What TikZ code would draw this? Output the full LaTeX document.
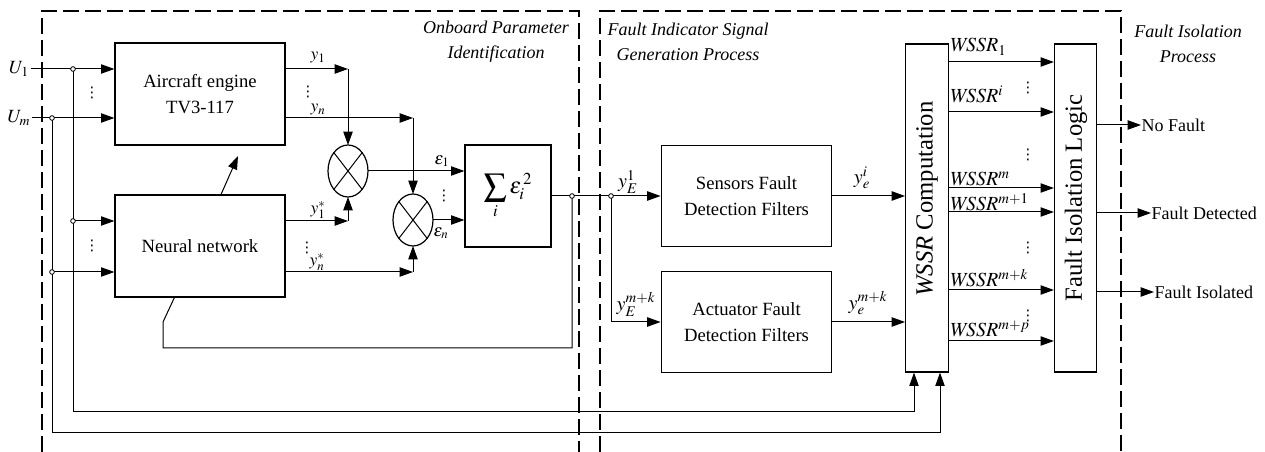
\documentclass[tikz,border=0pt]{standalone}
\usepackage{mathptmx}
\usepackage[no-math]{fontspec}
\setmainfont{Liberation Serif}
\newfontfamily\dotsfont{DejaVu Sans}
\usetikzlibrary{arrows.meta,shapes.geometric}

\begin{document}
\begin{tikzpicture}[x=0.75pt,y=-0.75pt,>={Triangle[length=10pt,width=7pt]},line width=0.75pt,
  blk/.style={draw,line width=0.9pt,align=center,inner sep=2pt,font=\fontsize{14}{20}\selectfont},
  mul/.style={draw,ellipse,line width=0.9pt,minimum width=30pt,minimum height=39pt,inner sep=0pt,outer sep=0pt},
  lbl/.style={inner sep=0pt,font=\fontsize{13}{15}\selectfont},
  big/.style={inner sep=0pt,font=\fontsize{15}{17}\selectfont},
  vd/.style={inner sep=0pt,font=\dotsfont\fontsize{11}{12}\selectfont},
  ttl/.style={align=center,font=\fontsize{13.5}{19}\selectfont\itshape},
  zone/.style={dash pattern=on 12pt off 4.5pt,line width=0.8pt},
  jdot/.style={circle,draw,fill=white,inner sep=0pt,minimum size=3.5pt,line width=0.6pt}]
\useasboundingbox (0,0) rectangle (1265,452);

% dashed zones
\draw[zone] (42,452) -- (42,11) -- (579,11) -- (579,452);
\draw[zone] (600,452) -- (600,11) -- (1121,11) -- (1121,452);
\node[ttl] (t1) at (496,42) {Onboard Parameter\\Identification};
\node[ttl] (t2) at (688,42) {Fault Indicator Signal\\Generation Process};
\node[ttl] (t3) at (1188,44) {Fault Isolation\\Process};

% blocks
\node[blk,minimum width=127.5pt,minimum height=76.5pt] (eng) at (200,94) {Aircraft engine\\TV3-117};
\node[blk,minimum width=127.5pt,minimum height=76.5pt] (nn) at (200,246) {Neural network};
\node[blk,minimum width=64.5pt,minimum height=76.5pt,font=\fontsize{17}{20}\selectfont] (sum) at (508,196) {$\displaystyle\sum_i\varepsilon_i^{\,2}$};
\node[blk,minimum width=128pt,minimum height=76pt] (sfd) at (746.5,196) {Sensors Fault\\Detection Filters};
\node[blk,minimum width=128pt,minimum height=76pt] (afd) at (746.5,322) {Actuator Fault\\Detection Filters};
\node[blk,minimum width=32pt,minimum height=246pt] (wssr) at (927,208) {};
\node[blk,minimum width=31.5pt,minimum height=246pt] (fil) at (1075.5,208) {};
\node[rotate=90,font=\fontsize{18.5}{20}\selectfont] (wssrtxt) at (927,199) {\textit{WSSR} Computation};
\node[rotate=90,font=\fontsize{18.5}{20}\selectfont] (filtxt) at (1076,198) {Fault Isolation Logic};
\node[mul] (m1) at (348,171) {};
\node[mul] (m2) at (413,220) {};
\draw (m1.north west) -- (m1.south east) (m1.north east) -- (m1.south west);
\draw (m2.north west) -- (m2.south east) (m2.north east) -- (m2.south west);

% inputs
\node[inner sep=1pt,font=\fontsize{14}{16}\selectfont] (u1) at (19,69) {$U_1$};
\node[inner sep=1pt,font=\fontsize{14}{16}\selectfont] (um) at (19,118) {$U_m$};
\coordinate (j1) at (73,69);
\coordinate (j2) at (52,118);
\coordinate (j3) at (73,221);
\coordinate (j4) at (52,272);
\coordinate (j5) at (572,196);
\coordinate (j6) at (611,196);
\draw[->] (u1) -- (u1 -| eng.west);
\draw[->] (um) -- (um -| eng.west);
\draw[->] (j3) -- (j3 -| nn.west);
\draw[->] (j4) -- (j4 -| nn.west);
\draw[->] (j1) -- (73,412) -| ([xshift=-9.75pt]wssr.south);
\draw[->] (j2) -- (52,433) -| ([xshift=9.75pt]wssr.south);

% identification loop
\draw[->] (eng.east |- j1) -- (m1 |- j1);
\draw[->] (m1 |- j1) -- (m1.north);
\draw[->] (eng.east |- j2) -- (m2 |- j2);
\draw[->] (m2 |- j2) -- (m2.north);
\draw[->] (nn.east |- j3) -- (m1 |- j3);
\draw[->] (m1 |- j3) -- (m1.south);
\draw[->] (nn.east |- j4) -- (m2 |- j4);
\draw[->] (m2 |- j4) -- (m2.south);
\draw[->] (m1.east) -- (m1.east -| sum.west);
\draw[->] (m2.east) -- (m2.east -| sum.west);
\draw[->] (sum.east) -- (sfd.west);
\draw (j5) |- (163,348) -- (163,322) -- ([xshift=45pt]nn.south west);
\coordinate (tip) at (238,156);
\draw[->] ([xshift=80pt]nn.north west) -- (tip);

% residual generation
\draw[->] (j6) |- (afd.west);
\draw[->] (sfd.east) -- (sfd.east -| wssr.west);
\draw[->] (afd.east) -- (afd.east -| wssr.west);

% wssr outputs
\foreach \yy/\yb/\txt/\nm in {62/52/{$\mathit{WSSR}_1$}/r1,112/103/{$\mathit{WSSR}^i$}/r2,188/186/{$\mathit{WSSR}^m$}/r3,
  212/211/{$\mathit{WSSR}^{m+1}$}/r4,290/287/{$\mathit{WSSR}^{m+k}$}/r5,341/337/{$\mathit{WSSR}^{m+p}$}/r6}{
  \draw[->] (wssr.east |- 0,\yy) -- (fil.west |- 0,\yy);
  \node[big,anchor=base west] (\nm) at (949,\yb) {\txt};
}

% decisions
\node[lbl,anchor=west,font=\fontsize{13.5}{16}\selectfont] (o1) at (1141,125) {No Fault};
\node[lbl,anchor=west,font=\fontsize{13.5}{16}\selectfont] (o2) at (1151,213) {Fault Detected};
\node[lbl,anchor=west,font=\fontsize{13.5}{16}\selectfont] (o3) at (1154,292) {Fault Isolated};
\draw[->] (fil.east |- o1) -- (o1.west);
\draw[->] (fil.east |- o2) -- (o2.west);
\draw[->] (fil.east |- o3) -- (o3.west);

% signal labels
\node[lbl] (ly1) at (318,58) {$y_1$};
\node[lbl] (lyn) at (318,110) {$y_n$};
\node[lbl] (ls1) at (318,210) {$y_1^*$};
\node[lbl] (lsn) at (317,262) {$y_n^*$};
\node[lbl] (le1) at (442,161) {$\varepsilon_1$};
\node[lbl] (len) at (441,233) {$\varepsilon_n$};
\node[big] (lye1) at (628,182) {$y_E^1$};
\node[big] (lyek) at (636,304) {$y_E^{m+k}$};
\node[big] (lyi) at (862,178) {$y_e^i$};
\node[big] (lyk) at (868,303) {$y_e^{m+k}$};
\foreach \xx/\yy/\nm in {92/93/v1,92/246/v2,308/92/v3,307/248/v4,444/196/v5,1028/88/v6,1028/155/v7,1028/248/v8,1028/316/v9}
  \node[vd] (\nm) at (\xx,\yy) {⋮};

% junction dots
\foreach \j in {j1,j2,j3,j4,j5,j6}
  \node[jdot] (d\j) at (\j) {};
\end{tikzpicture}
\end{document}
